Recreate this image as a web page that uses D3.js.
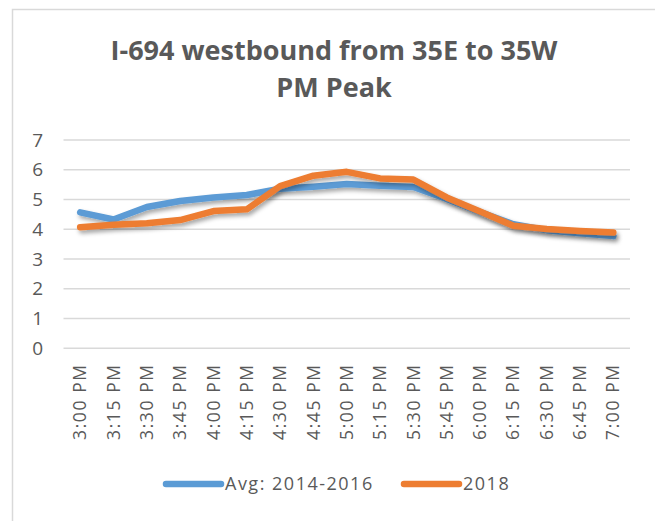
<!DOCTYPE html>
<html>
<head>
<meta charset="utf-8">
<script src="https://cdn.jsdelivr.net/npm/d3@7"></script>
<style>
  body { margin: 0; background: #fff; }
  svg text { font-family: "Open Sans", sans-serif; fill: #595959; }
</style>
</head>
<body>
<svg id="chart" width="655" height="521"></svg>
<script>
var times = ["3:00 PM", "3:15 PM", "3:30 PM", "3:45 PM", "4:00 PM", "4:15 PM", "4:30 PM",
             "4:45 PM", "5:00 PM", "5:15 PM", "5:30 PM", "5:45 PM", "6:00 PM", "6:15 PM",
             "6:30 PM", "6:45 PM", "7:00 PM"];
var avg1416 = [4.57, 4.33, 4.75, 4.95, 5.07, 5.15, 5.36, 5.43, 5.52, 5.46, 5.42, 5.02, 4.58, 4.17, 3.97, 3.87, 3.77];
var y2018 = [4.07, 4.15, 4.2, 4.31, 4.61, 4.67, 5.45, 5.8, 5.93, 5.71, 5.67, 5.07, 4.6, 4.12, 4.01, 3.94, 3.89];
var yTicks = [0, 1, 2, 3, 4, 5, 6, 7];
var seriesNames = ["Avg: 2014-2016", "2018"];
var seriesColors = ["#5b9bd5", "#ed7d31"];

var svg = d3.select("svg#chart");

// frame
svg.append("rect")
   .attr("x", 12.5).attr("y", 9.5)
   .attr("width", 670).attr("height", 540)
   .attr("fill", "none")
   .attr("stroke", "#d9d9d9")
   .attr("stroke-width", 1.5);

// title
var title = svg.append("text")
   .attr("x", 334)
   .attr("text-anchor", "middle")
   .style("font-size", "27px")
   .style("font-weight", "bold");
title.append("tspan").attr("x", 334).attr("y", 60).text("I-694 westbound from 35E to 35W");
title.append("tspan").attr("x", 334).attr("y", 97).text("PM Peak");

var x = d3.scaleBand().domain(times).range([63.5, 630]);
var y = d3.scaleLinear().domain([0, 7]).range([348.3, 140]);

// gridlines
svg.append("g")
   .selectAll("line")
   .data(yTicks)
   .join("line")
   .attr("x1", 63.5).attr("x2", 630)
   .attr("y1", function(d) { return y(d); })
   .attr("y2", function(d) { return y(d); })
   .attr("stroke", "#d9d9d9")
   .attr("stroke-width", 1.5);

// y axis labels
var yAxis = svg.append("g")
   .attr("transform", "translate(43,0)")
   .call(d3.axisLeft(y).tickValues(yTicks).tickFormat(d3.format("d")).tickSize(0).tickPadding(0));
yAxis.select(".domain").remove();
yAxis.selectAll("text")
   .style("font-size", "19px")
   .attr("fill", "#595959");

// x axis labels
var xAxis = svg.append("g")
   .attr("transform", "translate(0,348.3)")
   .call(d3.axisBottom(x).tickSize(0).tickPadding(0));
xAxis.select(".domain").remove();
xAxis.selectAll("text")
   .style("font-size", "17.5px")
   .style("letter-spacing", "1.6px")
   .attr("fill", "#595959")
   .attr("transform", "rotate(-90)")
   .attr("text-anchor", "end")
   .attr("x", -15)
   .attr("y", 0)
   .attr("dy", "0.35em");

// shadow filter
var defs = svg.append("defs");
var filter = defs.append("filter")
   .attr("id", "shadow")
   .attr("x", "-10%").attr("y", "-30%")
   .attr("width", "120%").attr("height", "160%");
filter.append("feDropShadow")
   .attr("dx", 2).attr("dy", 3)
   .attr("stdDeviation", 2)
   .attr("flood-color", "#000")
   .attr("flood-opacity", 0.35);

var line = d3.line()
   .x(function(d, i) { return x(times[i]) + x.bandwidth() / 2; })
   .y(function(d) { return y(d); });

[avg1416, y2018].forEach(function(vals, i) {
  svg.append("path")
     .datum(vals)
     .attr("d", line)
     .attr("fill", "none")
     .attr("stroke", seriesColors[i])
     .attr("stroke-width", 6.5)
     .attr("stroke-linejoin", "round")
     .attr("stroke-linecap", "round")
     .attr("filter", "url(#shadow)");
});

// legend
var legendX = [166, 404];
seriesNames.forEach(function(name, i) {
  var g = svg.append("g").attr("transform", "translate(" + legendX[i] + ",484)");
  g.append("line")
   .attr("x1", 0).attr("x2", 55)
   .attr("y1", 0).attr("y2", 0)
   .attr("stroke", seriesColors[i])
   .attr("stroke-width", 6.5)
   .attr("stroke-linecap", "round");
  g.append("text")
   .attr("x", 59).attr("y", 0)
   .attr("dy", "0.35em")
   .style("font-size", "18px")
   .style("letter-spacing", "1.5px")
   .text(name);
});
</script>
</body>
</html>
